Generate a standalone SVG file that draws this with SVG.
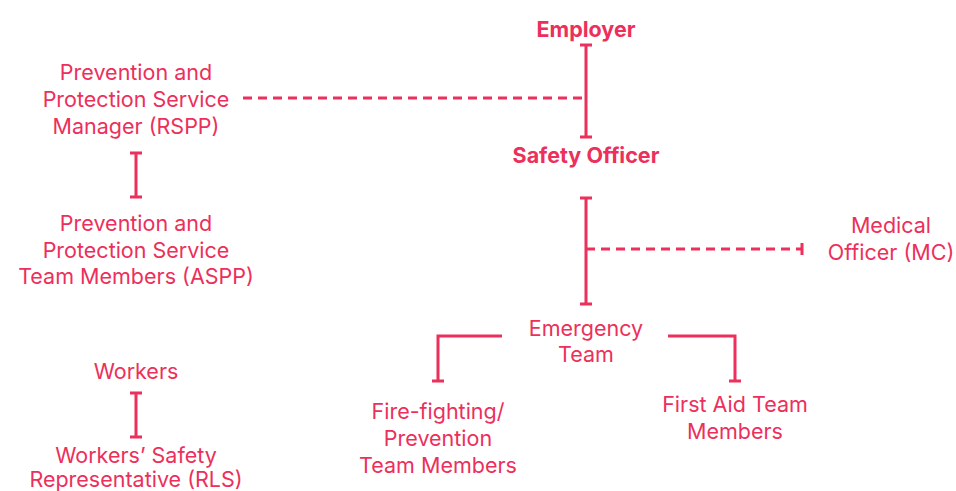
<svg xmlns="http://www.w3.org/2000/svg" width="956" height="491" viewBox="0 0 956 491">
<style>
text{font-family:Inter,"Noto Sans",sans-serif;font-size:21.5px;fill:#ec2f5b;text-anchor:middle}
.b{font-weight:700}
.l{stroke:#ec2f5b;stroke-width:3;fill:none}
.d{stroke-dasharray:9 6}
</style>
<rect width="956" height="491" fill="#fff"/>
<g id="connectors">
<path class="l" d="M586 45V137M580 45H592M580 137H592"/>
<path class="l d" d="M243 98H586"/>
<path class="l" d="M586 198V304M580 198H592M580 304H592"/>
<path class="l d" d="M586 249H802"/>
<path class="l" d="M802 243V255"/>
<path class="l" d="M502 336H438V381M432 381H444"/>
<path class="l" d="M668 336H735V381M729 381H741"/>
<path class="l" d="M136 153V197M130 153H142M130 197H142"/>
<path class="l" d="M136 393V437M130 393H142M130 437H142"/>
</g>
<g id="employer"><text class="b" x="586" y="37">Employer</text></g>
<g id="safety-officer"><text class="b" x="586" y="163">Safety Officer</text></g>
<g id="rspp"><text x="136" y="80">Prevention and</text><text x="136" y="107">Protection Service</text><text x="136" y="134">Manager (RSPP)</text></g>
<g id="aspp"><text x="136" y="231">Prevention and</text><text x="136" y="258">Protection Service</text><text x="136" y="284">Team Members (ASPP)</text></g>
<g id="workers"><text x="136" y="379">Workers</text></g>
<g id="rls"><text x="136" y="463">Workers’ Safety</text><text x="136" y="487">Representative (RLS)</text></g>
<g id="medical"><text x="891" y="233">Medical</text><text x="891" y="260">Officer (MC)</text></g>
<g id="emergency"><text x="586" y="336">Emergency</text><text x="586" y="362">Team</text></g>
<g id="fire"><text x="438" y="419">Fire-fighting/</text><text x="438" y="446">Prevention</text><text x="438" y="473">Team Members</text></g>
<g id="firstaid"><text x="735" y="412">First Aid Team</text><text x="735" y="439">Members</text></g>
</svg>
